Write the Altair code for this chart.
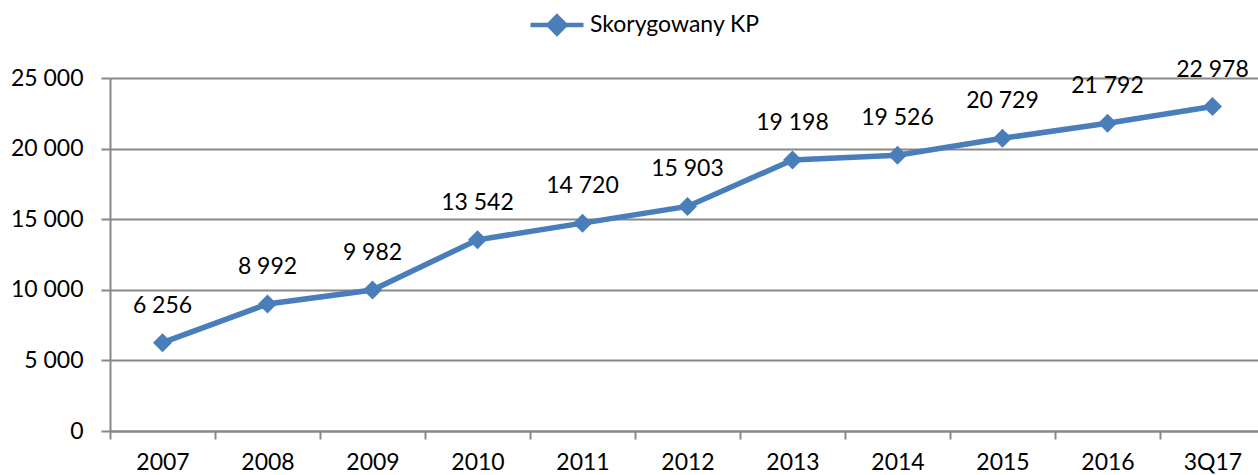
import altair as alt
import pandas as pd

categories = ["2007", "2008", "2009", "2010", "2011", "2012", "2013", "2014", "2015", "2016", "3Q17"]
values = [6256, 8992, 9982, 13542, 14720, 15903, 19198, 19526, 20729, 21792, 22978]
series_name = "Skorygowany KP"

df = pd.DataFrame({"period": categories, "value": values, "series": series_name})
df["label"] = [f"{v:,}".replace(",", " ") for v in values]

BLUE = "#4A7EBB"
GRID = "#888888"
FONT = "Lato"
FS = 23

x = alt.X(
    "period:O", sort=categories, title=None,
    scale=alt.Scale(type="band", paddingInner=0, paddingOuter=0, range=[0, 1155]),
    axis=alt.Axis(tickBand="extent", labelAngle=0, tickSize=8, tickColor=GRID, tickWidth=2,
                  domainColor=GRID, domainWidth=2, labelPadding=12, labelFont=FONT,
                  labelFontSize=FS, labelColor="black", grid=False),
)
y = alt.Y(
    "value:Q", title=None,
    scale=alt.Scale(domain=[0, 25000], nice=False),
    axis=alt.Axis(values=[0, 5000, 10000, 15000, 20000, 25000], tickSize=9, tickColor=GRID,
                  tickWidth=2, domainColor=GRID, domainWidth=2, gridColor=GRID, gridWidth=2,
                  labelPadding=18, labelFont=FONT, labelFontSize=FS, labelColor="black",
                  labelExpr="replace(format(datum.value, ','), ',', ' ')"),
)

color = alt.Color(
    "series:N", title=None,
    scale=alt.Scale(domain=[series_name], range=[BLUE]),
    legend=alt.Legend(
        orient="none", legendX=418, legendY=-82, padding=0,
        symbolType="M-1,0H1M0,-0.32L0.32,0L0,0.32L-0.32,0Z",
        symbolSize=2809, symbolStrokeWidth=4.5, symbolFillColor=BLUE,
        symbolStrokeColor=BLUE, labelFont=FONT, labelFontSize=FS, labelColor="black",
        labelOffset=4, labelLimit=400,
    ),
)

base = alt.Chart(df)
line = base.mark_line(color=BLUE, strokeWidth=5.5).encode(x=x, y=y)
points = base.mark_point(shape="diamond", filled=True, size=360, opacity=1).encode(
    x=x, y=y, color=color)
labels = base.mark_text(dy=-37, font=FONT, fontSize=FS, color="black").encode(
    x=x, y=y, text="label:N")

chart = alt.layer(line, points, labels).properties(
    width=1148, height=353,
    autosize=alt.AutoSizeParams(type="none"),
    padding={"left": 110, "top": 78, "right": 0, "bottom": 44},
).configure_view(stroke=None).configure(background="white")

chart.save("out.html", embed_options={"renderer": "svg", "actions": False})
